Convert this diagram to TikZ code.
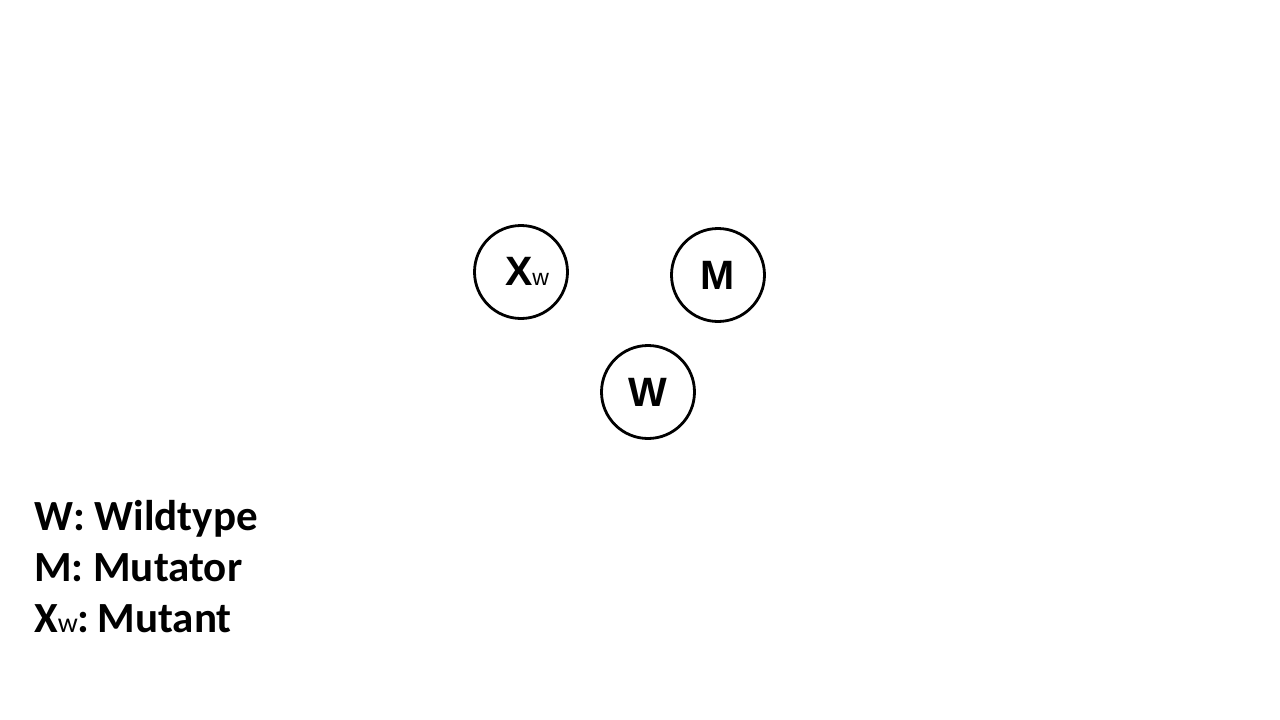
\documentclass[tikz,border=0pt]{standalone}
\usepackage{fontspec}
\setmainfont{Carlito}
\newfontfamily\arialf{Liberation Sans}
\begin{document}
\begin{tikzpicture}[x=1pt,y=-1pt,
  cell/.style={circle,draw=black,line width=2.8pt,minimum size=93pt,inner sep=0pt,font=\arialf\bfseries\fontsize{41}{43}\selectfont},
  legend/.style={anchor=base west,inner sep=0pt,font=\bfseries\fontsize{43}{46}\selectfont}]
\useasboundingbox (0,0) rectangle (1280,720);
\fill[white] (0,0) rectangle (1280,720);
\node[cell] (xw) at (521,272) {};
\node[anchor=center,inner sep=0pt,font=\arialf\bfseries\fontsize{41}{43}\selectfont] (xwt) at (527,271) {X\mdseries\fontsize{23}{24}\selectfont w};
\node[cell] (m) at (718,275) {M};
\node[cell] (w) at (648,392) {W};
\node[legend] (l1) at (34,530) {W: Wildtype};
\node[legend] (l2) at (34,581) {M: Mutator};
\node[legend] (l3) at (34,632) {X{\mdseries\fontsize{28}{30}\selectfont w}:\hspace{8pt}Mutant};
\end{tikzpicture}
\end{document}
